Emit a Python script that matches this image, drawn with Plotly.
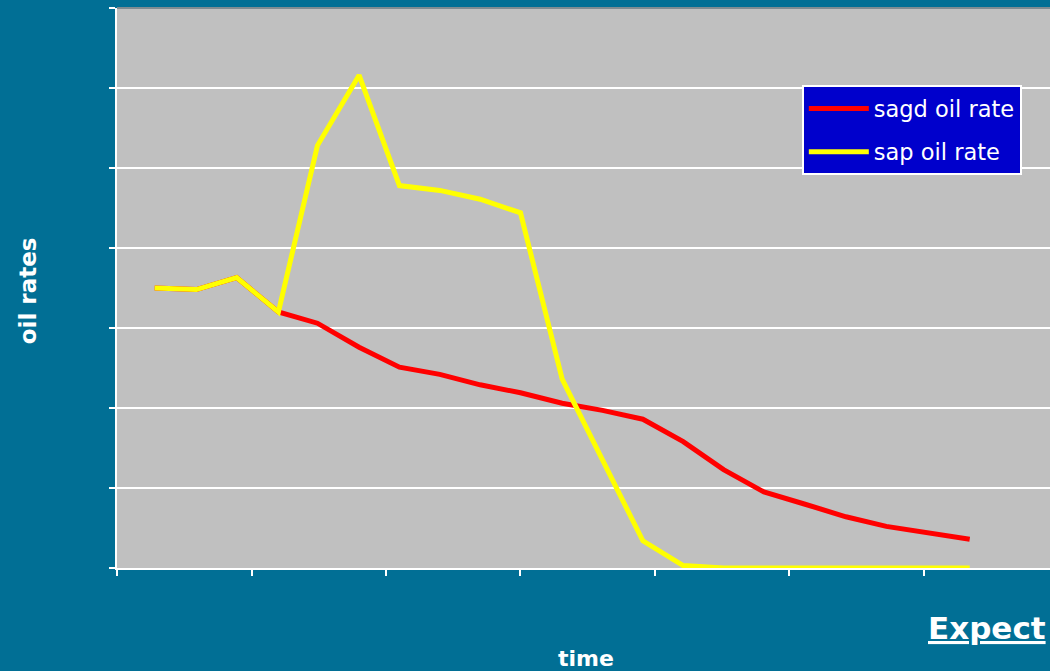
import plotly.graph_objects as go

# time positions (in x-axis tick units) and rates
time = [0.28, 0.59, 0.89, 1.20, 1.49, 1.80, 2.10, 2.40, 2.70, 3.00, 3.31, 3.61,
        3.91, 4.21, 4.51, 4.81, 5.11, 5.42, 5.72, 6.02, 6.34]
sagd_oil_rate = [3.50, 3.48, 3.63, 3.20, 3.06, 2.76, 2.51, 2.42, 2.29, 2.19, 2.06,
                 1.97, 1.86, 1.58, 1.23, 0.95, 0.80, 0.64, 0.52, 0.44, 0.36]
sap_oil_rate = [3.50, 3.48, 3.63, 3.20, 5.28, 6.16, 4.78, 4.72, 4.61, 4.44, 2.36,
                1.36, 0.34, 0.03, 0.0, 0.0, 0.0, 0.0, 0.0, 0.0, 0.0]
series_names = ["sagd oil rate", "sap oil rate"]

TEAL = "#016F95"
FONT = "DejaVu Sans, Verdana, sans-serif"

fig = go.Figure()
fig.add_trace(go.Scatter(x=time, y=sagd_oil_rate, mode="lines", name=series_names[0],
                         legendgroup="a", line=dict(color="#FF0000", width=5)))
fig.add_trace(go.Scatter(x=time, y=sap_oil_rate, mode="lines", name=series_names[1],
                         legendgroup="b", line=dict(color="#FFFF00", width=5)))

fig.update_layout(
    width=1050, height=671,
    margin=dict(l=117, r=0, t=8, b=103),
    paper_bgcolor=TEAL, plot_bgcolor="#C0C0C0",
    font=dict(family=FONT, color="white"),
    showlegend=True,
    legend=dict(x=0.734, y=0.862, xanchor="left", yanchor="top",
                bgcolor="#0000CC", bordercolor="white", borderwidth=2,
                font=dict(family=FONT, size=22.5, color="white"),
                tracegroupgap=11, itemwidth=60),
    xaxis=dict(range=[0, 6.937], dtick=1, tick0=0, showgrid=False, zeroline=False,
               showticklabels=False, ticks="outside", ticklen=6, tickwidth=2,
               tickcolor="white", showline=True, linecolor="white", linewidth=2),
    yaxis=dict(range=[0, 7], dtick=1, tick0=0, showgrid=True, gridcolor="white",
               gridwidth=2, zeroline=False, showticklabels=False, ticks="outside",
               ticklen=6, tickwidth=2, tickcolor="white", showline=True,
               linecolor="white", linewidth=2),
    annotations=[
        dict(text="<b>oil rates</b>", xref="paper", yref="paper", x=-0.0954, y=0.496,
             textangle=-90, showarrow=False, xanchor="center", yanchor="middle",
             font=dict(family=FONT, size=23, color="white")),
        dict(text="<b>time</b>", xref="paper", yref="paper", x=0.5027, y=-0.161,
             showarrow=False, xanchor="center", yanchor="middle",
             font=dict(family=FONT, size=22, color="white")),
        dict(text="<b><u>Expect</u></b>", xref="paper", yref="paper", x=0.867, y=-0.107,
             showarrow=False, xanchor="left", yanchor="middle",
             font=dict(family=FONT, size=31, color="white")),
    ],
    shapes=[
        dict(type="line", xref="paper", yref="paper", x0=0, x1=1, y0=1, y1=1,
             line=dict(color="#7F8C92", width=2)),
    ],
)

fig.write_html("out.html", config={"displayModeBar": False},
               post_script="document.body.style.margin='0';")
